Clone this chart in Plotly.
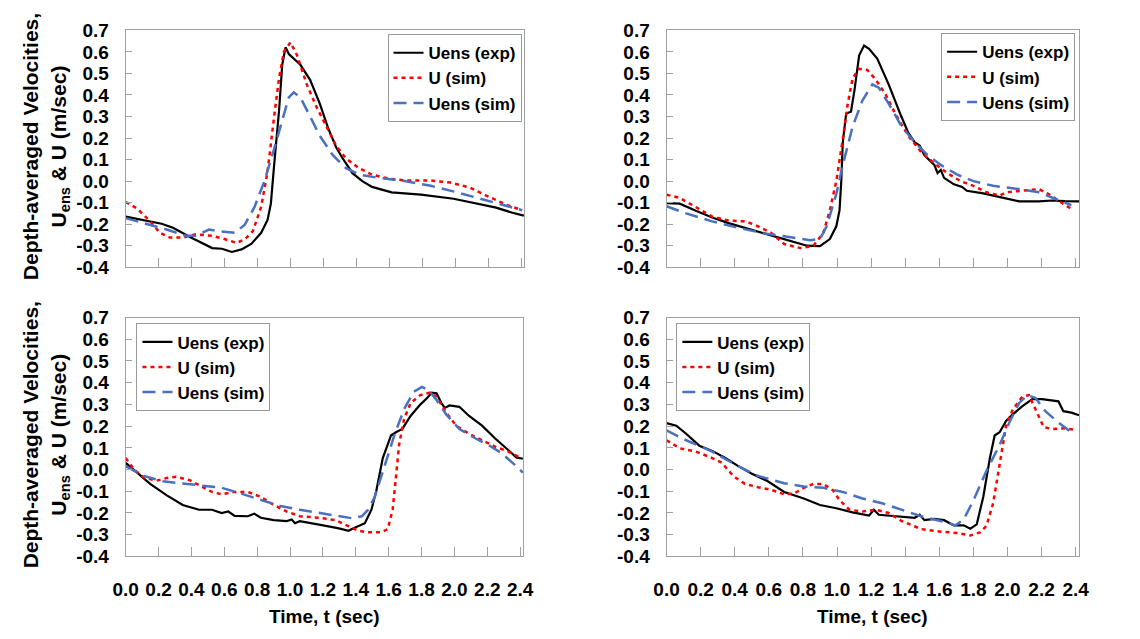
import plotly.graph_objects as go

# ---------------- data ----------------
# Top-left panel
tl_exp_t = [0, 0.109, 0.218, 0.287, 0.396, 0.525, 0.584, 0.644, 0.703, 0.762, 0.822, 0.861, 0.881, 0.901, 0.931, 0.95, 0.97, 0.99, 1.06, 1.119, 1.178, 1.228, 1.277, 1.317, 1.376, 1.436, 1.495, 1.614, 1.792, 1.99, 2.129, 2.248, 2.347, 2.416]
tl_exp_v = [-0.165, -0.18, -0.198, -0.217, -0.262, -0.311, -0.314, -0.329, -0.317, -0.292, -0.24, -0.18, -0.105, 0.075, 0.33, 0.54, 0.621, 0.59, 0.54, 0.47, 0.36, 0.247, 0.157, 0.105, 0.037, 0.0, -0.027, -0.052, -0.063, -0.082, -0.105, -0.123, -0.147, -0.16]
tl_u_t = [0, 0.069, 0.149, 0.208, 0.267, 0.347, 0.426, 0.525, 0.604, 0.673, 0.723, 0.772, 0.822, 0.861, 0.901, 0.931, 0.96, 1.0, 1.04, 1.099, 1.158, 1.218, 1.277, 1.337, 1.416, 1.495, 1.594, 1.693, 1.851, 1.97, 2.089, 2.188, 2.307, 2.406]
tl_u_v = [-0.097, -0.127, -0.187, -0.24, -0.262, -0.262, -0.247, -0.254, -0.27, -0.287, -0.27, -0.232, -0.12, 0.045, 0.3, 0.48, 0.6, 0.644, 0.584, 0.449, 0.344, 0.254, 0.165, 0.105, 0.06, 0.03, 0.012, 0.003, 0.003, -0.007, -0.03, -0.067, -0.109, -0.135]
tl_sim_t = [0, 0.109, 0.248, 0.366, 0.426, 0.505, 0.564, 0.663, 0.723, 0.782, 0.842, 0.901, 0.96, 0.99, 1.02, 1.06, 1.119, 1.178, 1.257, 1.337, 1.416, 1.535, 1.693, 1.851, 2.01, 2.149, 2.287, 2.406]
tl_sim_v = [-0.172, -0.195, -0.225, -0.254, -0.254, -0.225, -0.232, -0.24, -0.202, -0.12, 0.0, 0.15, 0.314, 0.389, 0.412, 0.389, 0.3, 0.21, 0.12, 0.06, 0.03, 0.015, 0.0, -0.022, -0.052, -0.082, -0.112, -0.135]

# Top-right panel
tr_exp_t = [0, 0.077, 0.172, 0.268, 0.364, 0.46, 0.556, 0.651, 0.747, 0.824, 0.9, 0.958, 0.996, 1.015, 1.025, 1.034, 1.054, 1.082, 1.102, 1.13, 1.159, 1.188, 1.236, 1.303, 1.37, 1.418, 1.456, 1.485, 1.513, 1.571, 1.59, 1.609, 1.628, 1.686, 1.734, 1.762, 1.858, 1.954, 2.069, 2.184, 2.261, 2.337, 2.42]
tr_exp_v = [-0.102, -0.105, -0.138, -0.169, -0.195, -0.217, -0.237, -0.262, -0.284, -0.3, -0.302, -0.269, -0.21, -0.135, 0.0, 0.18, 0.314, 0.322, 0.419, 0.584, 0.629, 0.614, 0.569, 0.449, 0.314, 0.225, 0.18, 0.165, 0.12, 0.075, 0.037, 0.052, 0.015, -0.015, -0.027, -0.045, -0.057, -0.075, -0.094, -0.094, -0.09, -0.093, -0.094]
tr_u_t = [0, 0.077, 0.153, 0.268, 0.364, 0.46, 0.517, 0.613, 0.69, 0.785, 0.862, 0.92, 0.958, 0.996, 1.034, 1.063, 1.092, 1.13, 1.178, 1.226, 1.284, 1.341, 1.418, 1.494, 1.571, 1.648, 1.724, 1.801, 1.877, 1.954, 1.992, 2.069, 2.184, 2.241, 2.318, 2.385]
tr_u_v = [-0.063, -0.078, -0.112, -0.165, -0.183, -0.187, -0.202, -0.24, -0.292, -0.311, -0.3, -0.24, -0.135, 0.0, 0.195, 0.359, 0.479, 0.521, 0.516, 0.472, 0.404, 0.314, 0.21, 0.135, 0.082, 0.037, 0.0, -0.022, -0.052, -0.067, -0.052, -0.045, -0.037, -0.06, -0.102, -0.135]
tr_sim_t = [0, 0.115, 0.268, 0.421, 0.575, 0.728, 0.843, 0.9, 0.939, 0.996, 1.034, 1.092, 1.149, 1.207, 1.245, 1.303, 1.379, 1.456, 1.533, 1.609, 1.705, 1.801, 1.916, 2.069, 2.184, 2.28, 2.375]
tr_sim_v = [-0.117, -0.15, -0.187, -0.217, -0.243, -0.262, -0.274, -0.269, -0.21, -0.06, 0.075, 0.254, 0.374, 0.449, 0.434, 0.36, 0.254, 0.18, 0.12, 0.075, 0.03, 0.0, -0.022, -0.037, -0.052, -0.082, -0.112]

# Bottom-left panel
bl_exp_t = [0, 0.069, 0.149, 0.248, 0.347, 0.446, 0.525, 0.584, 0.624, 0.663, 0.743, 0.782, 0.822, 0.901, 0.98, 1.01, 1.03, 1.059, 1.139, 1.218, 1.297, 1.356, 1.376, 1.416, 1.455, 1.495, 1.525, 1.564, 1.614, 1.644, 1.683, 1.733, 1.792, 1.832, 1.861, 1.891, 1.921, 1.941, 1.97, 2.03, 2.089, 2.168, 2.248, 2.327, 2.376, 2.416]
bl_exp_v = [0.031, -0.014, -0.066, -0.118, -0.163, -0.185, -0.185, -0.2, -0.193, -0.213, -0.215, -0.203, -0.222, -0.233, -0.237, -0.23, -0.247, -0.238, -0.247, -0.259, -0.271, -0.282, -0.274, -0.259, -0.247, -0.185, -0.096, 0.053, 0.157, 0.172, 0.187, 0.247, 0.299, 0.328, 0.354, 0.351, 0.306, 0.284, 0.295, 0.289, 0.247, 0.202, 0.143, 0.09, 0.056, 0.05]
bl_u_t = [0, 0.05, 0.109, 0.188, 0.248, 0.307, 0.386, 0.465, 0.525, 0.584, 0.663, 0.743, 0.822, 0.901, 0.98, 1.059, 1.178, 1.277, 1.356, 1.416, 1.475, 1.554, 1.594, 1.624, 1.644, 1.663, 1.693, 1.733, 1.792, 1.851, 1.891, 1.95, 2.01, 2.089, 2.168, 2.248, 2.327, 2.406]
bl_u_v = [0.053, 0.001, -0.036, -0.051, -0.039, -0.033, -0.048, -0.081, -0.103, -0.114, -0.103, -0.103, -0.126, -0.163, -0.193, -0.215, -0.222, -0.233, -0.259, -0.282, -0.289, -0.289, -0.274, -0.185, -0.036, 0.113, 0.232, 0.306, 0.343, 0.354, 0.336, 0.262, 0.202, 0.165, 0.135, 0.105, 0.083, 0.053]
bl_sim_t = [0, 0.109, 0.228, 0.347, 0.465, 0.584, 0.703, 0.822, 0.941, 1.059, 1.178, 1.297, 1.376, 1.436, 1.475, 1.515, 1.574, 1.634, 1.693, 1.752, 1.802, 1.842, 1.891, 1.95, 2.03, 2.129, 2.208, 2.287, 2.366, 2.416]
bl_sim_v = [0.016, -0.029, -0.054, -0.063, -0.073, -0.084, -0.111, -0.141, -0.168, -0.185, -0.2, -0.215, -0.224, -0.215, -0.185, -0.126, 0.009, 0.157, 0.277, 0.358, 0.381, 0.366, 0.321, 0.254, 0.187, 0.143, 0.113, 0.075, 0.023, -0.014]

# Bottom-right panel
br_exp_t = [0, 0.057, 0.115, 0.192, 0.268, 0.345, 0.421, 0.498, 0.594, 0.69, 0.805, 0.9, 0.996, 1.092, 1.188, 1.216, 1.245, 1.341, 1.456, 1.485, 1.513, 1.571, 1.628, 1.686, 1.743, 1.782, 1.82, 1.858, 1.897, 1.925, 1.954, 1.992, 2.031, 2.088, 2.146, 2.203, 2.261, 2.299, 2.328, 2.375, 2.42]
br_exp_v = [0.214, 0.202, 0.165, 0.11, 0.086, 0.053, 0.016, -0.018, -0.054, -0.103, -0.133, -0.163, -0.178, -0.197, -0.212, -0.185, -0.208, -0.215, -0.222, -0.208, -0.233, -0.227, -0.233, -0.257, -0.257, -0.272, -0.252, -0.126, 0.053, 0.157, 0.172, 0.224, 0.254, 0.292, 0.324, 0.324, 0.318, 0.314, 0.269, 0.262, 0.25]
br_u_t = [0, 0.077, 0.172, 0.268, 0.326, 0.364, 0.402, 0.46, 0.536, 0.613, 0.69, 0.747, 0.805, 0.862, 0.92, 0.977, 1.015, 1.073, 1.149, 1.226, 1.303, 1.379, 1.494, 1.609, 1.705, 1.782, 1.839, 1.877, 1.916, 1.954, 1.992, 2.031, 2.088, 2.126, 2.165, 2.213, 2.261, 2.337, 2.385]
br_u_v = [0.135, 0.098, 0.083, 0.053, 0.031, -0.006, -0.036, -0.066, -0.081, -0.093, -0.114, -0.111, -0.084, -0.066, -0.066, -0.096, -0.141, -0.185, -0.193, -0.185, -0.2, -0.237, -0.274, -0.286, -0.292, -0.304, -0.289, -0.259, -0.155, 0.023, 0.202, 0.277, 0.336, 0.343, 0.277, 0.195, 0.187, 0.19, 0.184]
br_sim_t = [0, 0.115, 0.268, 0.402, 0.536, 0.69, 0.805, 0.92, 1.034, 1.149, 1.264, 1.379, 1.494, 1.609, 1.695, 1.743, 1.801, 1.877, 1.954, 2.011, 2.069, 2.117, 2.165, 2.222, 2.299, 2.375]
br_sim_v = [0.18, 0.135, 0.083, 0.023, -0.029, -0.063, -0.078, -0.084, -0.103, -0.133, -0.155, -0.185, -0.215, -0.237, -0.257, -0.23, -0.141, -0.006, 0.113, 0.217, 0.307, 0.343, 0.329, 0.269, 0.217, 0.172]

series_names = ["Uens (exp)", "U (sim)", "Uens (sim)"]
x_tickvals = [0.0, 0.2, 0.4, 0.6, 0.8, 1.0, 1.2, 1.4, 1.6, 1.8, 2.0, 2.2, 2.4]
x_ticktext = ["0.0", "0.2", "0.4", "0.6", "0.8", "1.0", "1.2", "1.4", "1.6", "1.8", "2.0", "2.2", "2.4"]
y_tickvals = [-0.4, -0.3, -0.2, -0.1, 0.0, 0.1, 0.2, 0.3, 0.4, 0.5, 0.6, 0.7]
y_ticktext = ["-0.4", "-0.3", "-0.2", "-0.1", "0.0", "0.1", "0.2", "0.3", "0.4", "0.5", "0.6", "0.7"]
x_title = "Time, t (sec)"
y_title = "Depth-averaged Velocities,<br>U<sub>ens</sub> & U (m/sec)"

# ---------------- figure ----------------
W, H = 1140, 639
FONT = "Liberation Sans, Arial, sans-serif"

panels = [
    ("", (tl_exp_t, tl_exp_v, tl_u_t, tl_u_v, tl_sim_t, tl_sim_v), (115, 522), (21, 266), ("legend", 519, 25, "right"), False),
    ("2", (tr_exp_t, tr_exp_v, tr_u_t, tr_u_v, tr_sim_t, tr_sim_v), (667, 1088), (21, 266), ("legend2", 1084, 24, "right"), False),
    ("3", (bl_exp_t, bl_exp_v, bl_u_t, bl_u_v, bl_sim_t, bl_sim_v), (115, 521), (318, 565), ("legend3", 126, 324, "left"), True),
    ("4", (br_exp_t, br_exp_v, br_u_t, br_u_v, br_sim_t, br_sim_v), (667, 1088), (318, 565), ("legend4", 677, 324, "left"), True),
]

styles = [
    dict(color="#000000", width=2.2, dash="solid"),
    dict(color="#ff0000", width=2.5, dash="4px,4px"),
    dict(color="#4a70c0", width=2.5, dash="13px,7px"),
]

fig = go.Figure()
layout = dict(
    width=W, height=H,
    margin=dict(l=0, r=0, t=0, b=0),
    paper_bgcolor="white", plot_bgcolor="white",
    font=dict(family=FONT, size=19, color="black", weight="bold"),
    showlegend=True,
    annotations=[],
)

for suffix, data, (x0, x1), (y0, y1), (leg, lx, ly, lanchor), bottom in panels:
    xa = "x" + suffix
    ya = "y" + suffix
    for i in range(3):
        fig.add_trace(go.Scatter(
            x=data[2 * i], y=data[2 * i + 1], mode="lines",
            name=series_names[i], line=styles[i],
            xaxis=xa, yaxis=ya, legend=leg,
        ))
    layout["xaxis" + suffix] = dict(
        domain=[x0 / W, x1 / W], anchor=ya, range=[0, 2.42],
        tickvals=x_tickvals, ticktext=x_ticktext, showticklabels=bottom,
        ticks="inside", ticklen=9, tickcolor="#a0a0a0", tickwidth=1,
        showline=True, linecolor="#a0a0a0", linewidth=1, mirror=True,
        showgrid=False, zeroline=False, ticklabelstandoff=16,
        tickfont=dict(family=FONT, size=19, weight="bold"),
    )
    layout["yaxis" + suffix] = dict(
        domain=[1 - y1 / H, 1 - y0 / H], anchor=xa, range=[-0.4, 0.7],
        tickvals=y_tickvals, ticktext=y_ticktext,
        ticks="inside", ticklen=6, tickcolor="#a0a0a0", tickwidth=1,
        showline=True, linecolor="#a0a0a0", linewidth=1, mirror=True,
        showgrid=False, zeroline=False, ticklabelstandoff=12,
        tickfont=dict(family=FONT, size=19, weight="bold"),
    )
    layout[leg] = dict(
        x=lx / W, y=1 - ly / H, xanchor=lanchor, yanchor="top",
        xref="paper", yref="paper",
        bgcolor="white", bordercolor="#999999", borderwidth=1,
        font=dict(family=FONT, size=17, weight="bold"),
        itemwidth=30, tracegroupgap=0,
    )
    if bottom:
        layout["annotations"].append(dict(
            text=x_title, xref="paper", yref="paper",
            x=(x0 + x1) / 2 / W, y=1 - 627 / H, xanchor="center", yanchor="middle",
            showarrow=False, font=dict(family=FONT, size=19, weight="bold"),
        ))
    if suffix in ("", "3"):
        layout["annotations"].append(dict(
            text=y_title, xref="paper", yref="paper", textangle=-90,
            x=34 / W, y=1 - ((y0 + y1) / 2 - 2) / H, xanchor="center", yanchor="middle",
            showarrow=False, font=dict(family=FONT, size=21, weight="bold"),
        ))

fig.update_layout(**layout)
fig.write_html("out.html")
